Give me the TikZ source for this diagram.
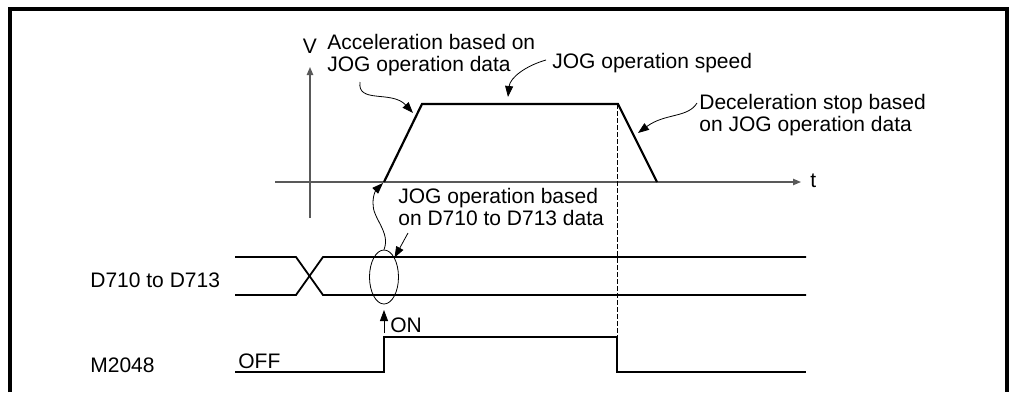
\documentclass[tikz,border=0pt]{standalone}
\usepackage{fontspec}
\setmainfont{Liberation Sans}
\usetikzlibrary{arrows.meta,shapes.geometric}

\begin{document}
\begin{tikzpicture}[
    x=0.5pt, y=-0.5pt,
    lbl/.style={
      inner sep=0pt, align=left,
      font=\fontsize{10.5}{10.75}\selectfont
    },
    axis/.style={gray!70!black, line width=0.6pt,
      -{Triangle[length=4pt,width=3.2pt]}},
    speed/.style={black, line width=1.1pt},
    sig/.style={black, line width=0.9pt},
    note/.style={black, line width=0.4pt,
      -{Triangle[length=5.5pt,width=4pt]}}
  ]
    \useasboundingbox (0,0) rectangle (1009,392);
    \draw[line width=2pt] (9.5,392) -- (9.5,8.5) -- (1007,8.5) -- (1007,392);

    % axes
    \coordinate (v0) at (310,218);
    \coordinate (v1) at (310,67);
    \coordinate (t0) at (275,182);
    \coordinate (t1) at (801,182);
    \draw[axis] (v0) -- (v1);
    \draw[axis] (t0) -- (t1);
    \node[lbl] (vlab) at (310,46) {V};
    \node[lbl, anchor=base west] (tlab) at (810,187) {t};

    % speed pattern
    \coordinate (s0) at (384,182);
    \coordinate (s1) at (422,104);
    \coordinate (s2) at (618,104);
    \coordinate (s3) at (657,182);
    \draw[speed] (s0) -- (s1) -- (s2) -- (s3);

    % labels (base = last line)
    \node[lbl, anchor=base west] (acc) at (327,71) {Acceleration based on\\JOG operation data};
    \node[lbl, anchor=base west] (spd) at (552,68) {JOG operation speed};
    \node[lbl, anchor=base west] (dec) at (699,131) {Deceleration stop based\\on JOG operation data};
    \node[lbl, anchor=base west] (jogd) at (398,225) {JOG operation based\\on D710 to D713 data};
    \node[lbl, anchor=base west] (dlab) at (90,287) {D710 to D713};
    \node[lbl, anchor=base west] (mlab) at (90,372) {M2048};
    \node[lbl, anchor=base west] (off) at (238,368) {OFF};
    \node[lbl, anchor=base west] (on) at (390,332) {ON};

    % data signals
    \draw[sig] (235,257) -- (296,257) -- (323,295) -- (806,295);
    \draw[sig] (235,295) -- (296,295) -- (323,257) -- (806,257);
    \node[ellipse, draw, line width=0.4pt, inner sep=0pt,
      minimum width=14.5pt, minimum height=27pt] (sel) at (384,277) {};

    % M2048
    \coordinate (m1) at (384,337);
    \coordinate (m2) at (617,337);
    \draw[sig] (235,372) -- (384,372) -- (m1) -- (m2) -- (617,372) -- (806,372);
    \draw[line width=0.4pt, dash pattern=on 2.5pt off 1pt] (617,104) -- (m2);
    \draw[note] (384,333) -- (384,310);

    % callouts
    \draw[note] (360,82) .. controls (357,104) and (392,90) .. (413,113);
    \draw[note] (546,60) .. controls (525,66) and (510,78) .. (508,97);
    \draw[note] (697,103) .. controls (688,118) and (665,113) .. (638,133);
    \draw[note] (sel.north) .. controls (391,232) and (372,218) .. (373,203)
      .. controls (373,193) and (377,189) .. (383,183);
    \draw[note] (408,233) -- (sel.north east);
  \end{tikzpicture}
\end{document}
